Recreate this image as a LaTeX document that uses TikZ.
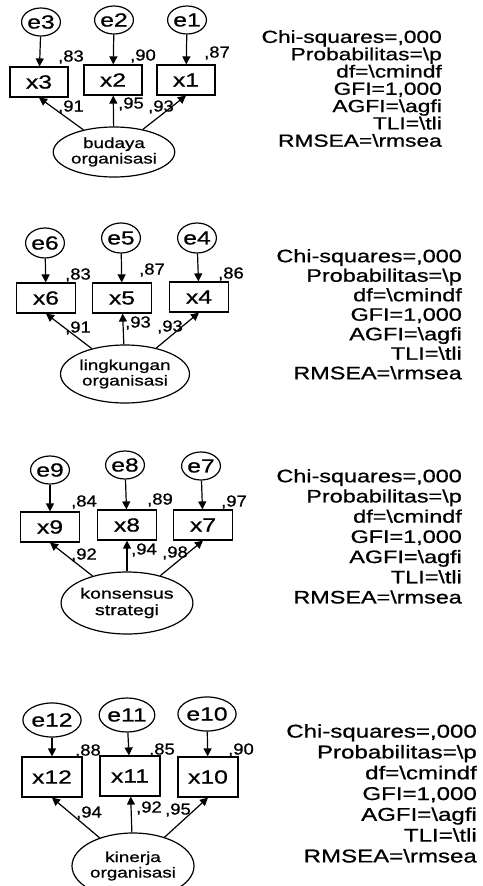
\documentclass[tikz,border=0pt]{standalone}
\usepackage{fontspec}
\setmainfont{Liberation Sans}
\newfontfamily\wf[FakeStretch=1.3,FakeBold=0.8]{Liberation Sans}
\newfontfamily\lf[FakeStretch=1.15,FakeBold=0.8]{Liberation Sans}
\usetikzlibrary{shapes.geometric,arrows.meta}
\newcommand\fitstats{Chi-squares=,000\\Probabilitas=\textbackslash p\\df=\textbackslash cmindf\\GFI=1,000\\AGFI=\textbackslash agfi\\TLI=\textbackslash tli\\RMSEA=\textbackslash rmsea}
\begin{document}
\begin{tikzpicture}[x=1pt,y=-1pt,
  lw/.style={line width=1.2pt},
  obs/.style={draw,lw,minimum width=58pt,minimum height=30pt,inner sep=0pt,font=\wf\fontsize{19}{20}\selectfont},
  err/.style={draw,lw,ellipse,minimum width=38pt,minimum height=28pt,inner sep=0pt,font=\wf\fontsize{19}{20}\selectfont},
  lat/.style={draw,lw,ellipse,inner sep=0pt,align=center,font=\wf\fontsize{14.5}{15.5}\selectfont},
  ld/.style={inner sep=0pt,font=\lf\fontsize{16}{18}\selectfont},
  arr/.style={lw,-{Triangle[length=8pt,width=8pt]}},
  fitbox/.style={anchor=north east,inner sep=0pt,align=right}
]
\path[use as bounding box,clip] (0,0) rectangle (482,886);
\fill[white] (0,0) rectangle (482,886);

% ---------- Panel 1 ----------
\node[err] (e3) at (41,22) {e3};
\node[err] (e2) at (114,20) {e2};
\node[err] (e1) at (187,20) {e1};
\node[obs] (x3) at (39,82) {x3};
\node[obs] (x2) at (113,80) {x2};
\node[obs] (x1) at (186,80) {x1};
\node[lat,minimum width=114pt,minimum height=50pt] (L1) at (114,152) {budaya\\organisasi};
\draw[arr] (e3) -- (x3);
\draw[arr] (e2) -- (x2);
\draw[arr] (e1) -- (x1);
\draw[arr] (L1) -- (x3.south);
\draw[arr] (L1) -- (x2);
\draw[arr] (L1) -- (x1.south);
\node[ld] (r3) at (71,57) {,83};
\node[ld] (r2) at (143,56) {,90};
\node[ld] (r1) at (217,53) {,87};
\node[ld] (l3) at (71,107) {,91};
\node[ld] (l2) at (131,104) {,95};
\node[ld] (l1) at (161,107) {,93};
\node[fitbox,font=\wf\fontsize{17.5}{17.3}\selectfont] (f1) at (442,30) {\fitstats};

% ---------- Panel 2 ----------
\node[err,minimum height=30pt] (e6) at (45,243) {e6};
\node[err,minimum height=30pt] (e5) at (121,238) {e5};
\node[err,minimum height=30pt] (e4) at (197,238) {e4};
\node[obs,minimum width=59pt] (x6) at (46,298) {x6};
\node[obs,minimum width=59pt] (x5) at (122,298) {x5};
\node[obs,minimum width=59pt] (x4) at (199,297) {x4};
\node[lat,minimum width=120pt,minimum height=58pt] (L2) at (125,374) {lingkungan\\organisasi};
\draw[arr] (e6) -- (x6);
\draw[arr] (e5) -- (x5);
\draw[arr] (e4) -- (x4);
\draw[arr] (L2) -- (x6.south);
\draw[arr] (L2) -- (x5);
\draw[arr] (L2) -- (x4.south);
\node[ld] (r6) at (78,275) {,83};
\node[ld] (r5) at (152,270) {,87};
\node[ld] (r4) at (231,274) {,86};
\node[ld] (l6) at (78,328) {,91};
\node[ld] (l5) at (138,323) {,93};
\node[ld] (l4) at (170,327) {,93};
\node[fitbox,font=\wf\fontsize{18}{19.5}\selectfont] (f2) at (462,249) {\fitstats};

% ---------- Panel 3 ----------
\node[err] (e9) at (50,470) {e9};
\node[err] (e8) at (125,465) {e8};
\node[err] (e7) at (201,466) {e7};
\node[obs,minimum width=59pt] (x9) at (50,527) {x9};
\node[obs,minimum width=59pt] (x8) at (127,525) {x8};
\node[obs,minimum width=59pt] (x7) at (203,525) {x7};
\node[lat,minimum width=118pt,minimum height=62pt,font=\wf\fontsize{15}{16.5}\selectfont] (L3) at (127,603) {konsensus\\strategi};
\draw[arr] (e9) -- (x9);
\draw[arr] (e8) -- (x8);
\draw[arr] (e7) -- (x7);
\draw[arr] (L3) -- (x9.south);
\draw[arr] (L3) -- (x8);
\draw[arr] (L3) -- (x7.south);
\node[ld] (r9) at (84,502) {,84};
\node[ld] (r8) at (160,500) {,89};
\node[ld] (r7) at (234,502) {,97};
\node[ld] (l9) at (84,555) {,92};
\node[ld] (l8) at (144,550) {,94};
\node[ld] (l7) at (175,553) {,98};
\node[fitbox,font=\wf\fontsize{18}{20.2}\selectfont] (f3) at (462,469) {\fitstats};

% ---------- Panel 4 ----------
\node[err,minimum height=34pt] (e12) at (52,720) {e12};
\node[err,minimum height=34pt] (e11) at (127,715) {e11};
\node[err,minimum height=34pt] (e10) at (207,714) {e10};
\node[obs,minimum width=60pt,minimum height=40pt] (x12) at (52,777) {x12};
\node[obs,minimum width=60pt,minimum height=40pt] (x11) at (130,776) {x11};
\node[obs,minimum width=60pt,minimum height=40pt] (x10) at (208,777) {x10};
\node[lat,minimum width=122pt,minimum height=66pt] (L4) at (133,866) {kinerja\\organisasi};
\draw[arr] (e12) -- (x12);
\draw[arr] (e11) -- (x11);
\draw[arr] (e10) -- (x10);
\draw[arr] (L4) -- (x12.south);
\draw[arr] (L4) -- (x11);
\draw[arr] (L4) -- (x10.south);
\node[ld] (r12) at (88,751) {,88};
\node[ld] (r11) at (162,750) {,85};
\node[ld] (r10) at (241,750) {,90};
\node[ld] (l12) at (89,813) {,94};
\node[ld] (l11) at (149,808) {,92};
\node[ld] (l10) at (178,810) {,95};
\node[fitbox,font=\wf\fontsize{18.5}{20.8}\selectfont] (f4) at (477,724) {\fitstats};
\end{tikzpicture}
\end{document}
